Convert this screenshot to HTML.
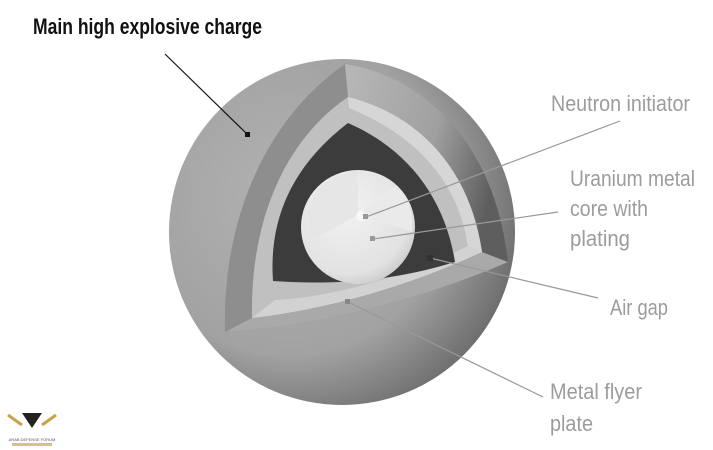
<!DOCTYPE html>
<html><head><style>html,body{margin:0;padding:0;background:#fff;}svg{display:block}</style></head>
<body>
<svg width="713" height="450" viewBox="0 0 713 450" xmlns="http://www.w3.org/2000/svg">
<defs>
<radialGradient id="sph" cx="0.35" cy="0.4" r="0.7">
<stop offset="0" stop-color="#b2b2b2"/><stop offset="0.65" stop-color="#a2a2a2"/><stop offset="1" stop-color="#6a6a6a"/>
</radialGradient>
<linearGradient id="rt" x1="0" y1="0" x2="1" y2="0.3">
<stop offset="0" stop-color="#b8b8b8"/><stop offset="0.6" stop-color="#a0a0a0"/><stop offset="1" stop-color="#5e5e5e"/>
</linearGradient>
<radialGradient id="core" cx="0.4" cy="0.35" r="0.7">
<stop offset="0" stop-color="#f2f2f2"/><stop offset="0.8" stop-color="#e2e2e2"/><stop offset="1" stop-color="#cacaca"/>
</radialGradient>
</defs>
<circle cx="342" cy="232" r="173" fill="url(#sph)"/>
<!-- HE shell cut faces -->
<path d="M345,64 C420,75 495,140 508,262 C420,300 320,325 225,332 C222,220 265,120 345,64 Z" fill="#8e8e8e"/>
<path d="M225,332 C320,325 420,300 508,262 L482,252 C400,290 320,310 252,318 Z" fill="#a9a9a9"/>
<path d="M345,64 C420,75 495,140 508,262 L482,252 C470,170 420,115 348,97 Z" fill="url(#rt)"/>
<!-- flyer plate -->
<path d="M348,97 C420,115 470,170 482,252 C400,290 320,310 252,318 C250,220 285,140 348,97 Z" fill="#c0c0c0"/>
<path d="M252,318 C320,310 400,290 482,252 L468,246 C395,282 320,298 275,300 Z" fill="#d2d2d2"/>
<path d="M348,97 C420,115 470,170 482,252 L468,246 C458,180 415,135 349,108 Z" fill="#d6d6d6"/>
<!-- air gap -->
<path d="M348,123 C410,150 445,200 455,262 C390,282 330,285 273,281 C268,210 300,160 348,123 Z" fill="#3c3c3c"/>
<path d="M348,123 C410,150 445,200 455,262 L470,246 C458,180 415,135 349,108 Z" fill="#5a5a5a" opacity="0.0"/>
<circle cx="358" cy="227" r="57" fill="url(#core)"/>
<path d="M358,170 L358,215 L312,240 Q300,200 330,180 Z" fill="#e6e6e6"/>
<path d="M358,215 L412,232 Q414,200 395,185 Z" fill="#eaeaea"/>
<circle cx="361" cy="216" r="5" fill="#f8f8f8"/>
<!-- connectors -->
<g stroke-width="1.2" fill="none">
<line x1="165" y1="54" x2="248" y2="135" stroke="#111"/>
<line x1="620" y1="121" x2="366" y2="217" stroke="#999"/>
<line x1="558" y1="212" x2="373" y2="239" stroke="#999"/>
<line x1="598" y1="298" x2="430" y2="258" stroke="#999"/>
<line x1="543" y1="397" x2="348" y2="302" stroke="#999"/>
</g>
<rect x="245" y="132" width="5" height="5" fill="#111"/>
<rect x="363" y="214" width="5" height="5" fill="#999"/>
<rect x="370" y="236" width="5" height="5" fill="#999"/>
<rect x="427" y="255" width="6" height="6" fill="#333"/>
<rect x="345" y="299" width="5" height="5" fill="#888"/>
<g font-family="'Liberation Sans Narrow','Liberation Sans',sans-serif" font-size="22">
<text x="33" y="34" fill="#111" textLength="229" lengthAdjust="spacingAndGlyphs" font-weight="bold">Main high explosive charge</text>
<g fill="#9c9c9c">
<text x="551" y="111" textLength="139" lengthAdjust="spacingAndGlyphs">Neutron initiator</text>
<text x="570" y="186" textLength="125" lengthAdjust="spacingAndGlyphs">Uranium metal</text>
<text x="570" y="216" textLength="78" lengthAdjust="spacingAndGlyphs">core with</text>
<text x="570" y="246" textLength="60" lengthAdjust="spacingAndGlyphs">plating</text>
<text x="610" y="315" textLength="58" lengthAdjust="spacingAndGlyphs">Air gap</text>
<text x="550" y="399" textLength="92" lengthAdjust="spacingAndGlyphs">Metal flyer</text>
<text x="550" y="431" textLength="43" lengthAdjust="spacingAndGlyphs">plate</text>
</g></g>
<!-- logo -->
<path d="M22,413 L42,413 L32,428 Z" fill="#222"/>
<path d="M8,415 L22,425 M56,415 L42,425" stroke="#c9a24a" stroke-width="3"/>
<text x="32" y="441" font-size="4" text-anchor="middle" fill="#555" font-family="'Liberation Sans',sans-serif">ARAB DEFENSE FORUM</text>
<rect x="12" y="443" width="40" height="3" fill="#d9c08a"/>
</svg>
</body></html>
